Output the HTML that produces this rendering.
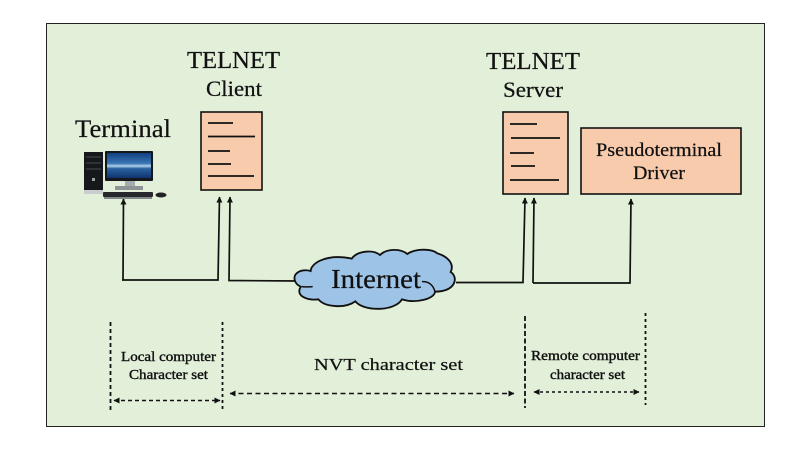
<!DOCTYPE html>
<html>
<head>
<meta charset="utf-8">
<style>
html,body{margin:0;padding:0;background:#fff;width:809px;height:455px;overflow:hidden}
svg{display:block}
text{font-family:"Liberation Serif",serif;fill:#111;stroke:#111;stroke-width:.22}
</style>
</head>
<body>
<svg width="809" height="455" viewBox="0 0 809 455" xmlns="http://www.w3.org/2000/svg">
<defs>
<linearGradient id="scr" x1="0" y1="0" x2="0" y2="1">
<stop offset="0" stop-color="#123f80"/>
<stop offset="0.42" stop-color="#3c78b6"/>
<stop offset="0.52" stop-color="#b3d2e8"/>
<stop offset="0.62" stop-color="#2b639f"/>
<stop offset="1" stop-color="#0f3470"/>
</linearGradient>
<marker id="ah" markerWidth="7" markerHeight="7" refX="5.5" refY="3" orient="auto" markerUnits="userSpaceOnUse">
<path d="M0,0 L6,3 L0,6 Z" fill="#111"/>
</marker>
<marker id="ahs" markerWidth="7" markerHeight="7" refX="0.5" refY="3" orient="auto" markerUnits="userSpaceOnUse">
<path d="M6,0 L0,3 L6,6 Z" fill="#111"/>
</marker>
</defs>

<rect x="46.500" y="23.500" width="718" height="403" fill="#e2efd9" stroke="#222" stroke-width="1"/>

<!-- Documents -->
<rect x="201" y="112" width="61" height="78" fill="#f8cbad" stroke="#111" stroke-width="1.600"/>
<g stroke="#111" stroke-width="1.800" fill="none">
<path d="M208 123H233M208 136.500H255M208 151H230M208 164H231M208 176H254"/>
</g>
<rect x="503" y="112" width="65" height="82" fill="#f8cbad" stroke="#111" stroke-width="1.600"/>
<g stroke="#111" stroke-width="1.800" fill="none">
<path d="M510 124H537M511 138H560M510 153H534M511 166H535M510 180H559"/>
</g>
<rect x="581" y="128" width="160" height="66" fill="#f8cbad" stroke="#111" stroke-width="1.600"/>

<!-- Connectors -->
<g stroke="#111" stroke-width="1.700" fill="none">
<path d="M123 280L123.500 199" marker-end="url(#ah)"/>
<path d="M122 280H218L219.500 197" marker-end="url(#ah)"/>
<path d="M298 281L229 280.500L230 197" marker-end="url(#ah)"/>
<path d="M456 282.500H523L525 198" marker-end="url(#ah)"/>
<path d="M533 283L534 198" marker-end="url(#ah)"/>
<path d="M533 283H630L631 199" marker-end="url(#ah)"/>
</g>

<!-- Cloud -->
<g transform="translate(280 230) scale(0.3333)">
<path d="M50 130 C60 120 78 119 92 123 C92 100 140 70 215 86 C232 62 280 58 300 75 C320 55 362 55 382 72 C405 55 455 55 472 70 C500 78 525 100 512 126 C535 140 530 185 465 185 C465 205 410 222 366 208 C345 245 250 245 226 214 C195 236 135 232 115 208 C85 212 45 200 62 170 C40 160 40 138 50 130 Z" fill="#9dc3e6" stroke="#111" stroke-width="5.500"/>
<path d="M65 170C76 171 88 171 98 170M426 155C445 153 460 165 465 185" fill="none" stroke="#111" stroke-width="4.500"/>
</g>

<!-- Computer -->
<g>
<rect x="84" y="152" width="19" height="38" fill="#16181c"/>
<rect x="84" y="190" width="19" height="4" fill="#c9cdd0"/>
<path d="M86 157H101M86 163H101M86 169H101" stroke="#4a4d52" stroke-width="1"/>
<rect x="92" y="178" width="3" height="3" fill="#9aa0a6"/>
<rect x="105" y="151" width="48" height="30" rx="1" fill="#15171b"/>
<rect x="107" y="153" width="44" height="25" fill="url(#scr)"/>
<rect x="125" y="181" width="10" height="5" fill="#a7abad"/>
<rect x="115" y="186" width="28" height="4" fill="#8f9496"/>
<rect x="103" y="192" width="50" height="5" rx="1" fill="#26282b"/>
<rect x="104" y="197" width="48" height="2" fill="#85888b"/>
<ellipse cx="161" cy="195" rx="5.500" ry="2.500" fill="#222"/>
</g>

<!-- Labels -->
<text x="187" y="68" font-size="24" textLength="93" lengthAdjust="spacingAndGlyphs">TELNET</text>
<text x="206" y="96" font-size="22" textLength="56" lengthAdjust="spacingAndGlyphs">Client</text>
<text x="75" y="137" font-size="25" textLength="96" lengthAdjust="spacingAndGlyphs">Terminal</text>
<text x="486" y="69" font-size="24" textLength="94" lengthAdjust="spacingAndGlyphs">TELNET</text>
<text x="503" y="97" font-size="22" textLength="60" lengthAdjust="spacingAndGlyphs">Server</text>
<text x="596" y="156" font-size="19" textLength="126" lengthAdjust="spacingAndGlyphs">Pseudoterminal</text>
<text x="633" y="179" font-size="19" textLength="52" lengthAdjust="spacingAndGlyphs">Driver</text>
<text x="331" y="288" font-size="27" textLength="90" lengthAdjust="spacingAndGlyphs">Internet</text>
<text x="121" y="361" font-size="14" textLength="95" lengthAdjust="spacingAndGlyphs" stroke-width=".4" style="stroke-width:.4">Local computer</text>
<text x="129" y="379" font-size="14" textLength="79" lengthAdjust="spacingAndGlyphs" style="stroke-width:.4">Character set</text>
<text x="314" y="370" font-size="17" textLength="149" lengthAdjust="spacingAndGlyphs">NVT character set</text>
<text x="531" y="360" font-size="14" textLength="109" lengthAdjust="spacingAndGlyphs" style="stroke-width:.4">Remote computer</text>
<text x="550" y="379" font-size="14" textLength="75" lengthAdjust="spacingAndGlyphs" style="stroke-width:.4">character set</text>

<!-- Dashed separators -->
<g stroke="#111" stroke-width="1.800" fill="none">
<path d="M110.500 322V410" stroke-dasharray="4 3"/>
<path d="M222.500 322V412" stroke-dasharray="3 3"/>
<path d="M525 316V408" stroke-dasharray="5 2.500"/>
<path d="M645.500 313V405" stroke-dasharray="3 3"/>
</g>
<g stroke="#111" stroke-width="1.500" fill="none">
<path d="M114 400.500H220" stroke-dasharray="4 3" marker-start="url(#ahs)" marker-end="url(#ah)"/>
<path d="M230 393.500H514" stroke-dasharray="5 3.500" marker-start="url(#ahs)" marker-end="url(#ah)"/>
<path d="M534 392H639" stroke-dasharray="3 3" marker-start="url(#ahs)" marker-end="url(#ah)"/>
</g>
</svg>
</body>
</html>
